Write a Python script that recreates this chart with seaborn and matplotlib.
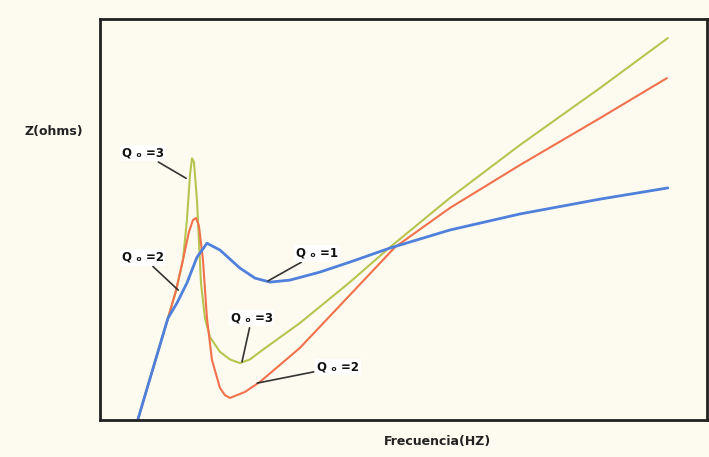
import pandas as pd
import matplotlib.pyplot as plt
import seaborn as sns

# Impedance curves (arbitrary units, 0-100 scale)
q1_freq = [6.26, 9.06, 11.20, 12.69, 14.33, 15.98, 17.63, 19.77, 23.06, 25.54, 28.01,
           31.30, 36.24, 41.19, 47.78, 57.66, 69.19, 82.37, 93.57]
q1_z = [0.2, 14.5, 25.4, 29.2, 34.2, 40.6, 44.1, 42.4, 37.9, 35.4, 34.4,
        34.9, 36.9, 39.4, 42.9, 47.4, 51.4, 55.1, 57.9]

q3_freq = [6.26, 9.06, 11.20, 12.52, 13.67, 14.33, 14.83, 15.16, 15.49, 15.98, 16.64,
           17.30, 18.12, 19.77, 21.42, 23.06, 24.71, 26.36, 32.95, 41.19, 47.78, 57.66,
           69.19, 82.37, 93.57]
q3_z = [0.2, 14.5, 25.4, 32.2, 39.9, 49.9, 61.1, 65.3, 64.3, 54.9, 34.2,
        25.4, 20.7, 17.0, 15.1, 14.2, 15.1, 17.0, 24.2, 34.4, 43.1, 55.4,
        68.6, 82.8, 95.3]

q2_freq = [6.26, 9.06, 11.20, 12.52, 13.67, 14.66, 15.32, 15.82, 16.31, 16.97, 17.63,
           18.45, 19.77, 20.59, 21.42, 23.89, 26.36, 32.95, 41.19, 48.60, 57.66, 69.19,
           82.37, 93.41]
q2_z = [0.2, 14.5, 25.4, 32.2, 39.9, 46.9, 49.9, 50.4, 48.4, 39.9, 25.4,
        15.0, 8.0, 6.2, 5.5, 7.0, 9.5, 18.0, 31.2, 43.1, 52.9, 63.6,
        75.3, 85.3]

# label text position and the point on the curve it points to
labels = ['Q ₒ =3', 'Q ₒ =2', 'Q ₒ =1', 'Q ₒ =3', 'Q ₒ =2']
label_xy = [(7.1, 66.6), (7.1, 40.6), (35.8, 41.6), (25.0, 25.4), (39.2, 13.2)]
target_xy = [(14.2, 60.3), (12.9, 32.4), (27.7, 34.7), (23.4, 14.5), (25.9, 9.2)]

bg = '#FDFBF0'
colors = {'Q1': '#4F80DC', 'Q2': '#F0714C', 'Q3': '#B8C450'}
widths = {'Q1': 2.0, 'Q2': 1.5, 'Q3': 1.5}

df = pd.concat([
    pd.DataFrame({'freq': q3_freq, 'z': q3_z, 'Q': 'Q3'}),
    pd.DataFrame({'freq': q2_freq, 'z': q2_z, 'Q': 'Q2'}),
    pd.DataFrame({'freq': q1_freq, 'z': q1_z, 'Q': 'Q1'}),
])

sns.set_style('white')
fig = plt.figure(figsize=(7.09, 4.57), dpi=100, facecolor=bg)
ax = fig.add_axes([0.141, 0.081, 0.856, 0.877], facecolor=bg)

for key in ['Q3', 'Q2', 'Q1']:
    sns.lineplot(data=df[df['Q'] == key], x='freq', y='z', color=colors[key],
                 linewidth=widths[key], estimator=None, sort=False, ax=ax)

for text, txy, pxy in zip(labels, label_xy, target_xy):
    ax.annotate(text, xy=pxy, xytext=txy, ha='center', va='center',
                fontsize=8.5, fontweight='bold', color='#111111',
                bbox=dict(boxstyle='square,pad=0.15', fc='white', ec='none'),
                arrowprops=dict(arrowstyle='-', color='#333333', lw=1.2,
                                shrinkA=1, shrinkB=0))

ax.set_xlim(0, 100)
ax.set_ylim(0, 100)
ax.set_xticks([])
ax.set_yticks([])
ax.set_xlabel('')
ax.set_ylabel('')
for s in ax.spines.values():
    s.set_color('#222222')
    s.set_linewidth(2.0)

fig.text(54 / 709, 1 - 131 / 457, 'Z(ohms)', ha='center', va='center',
         fontsize=9, fontweight='bold', color='#222222')
fig.text(437 / 709, 1 - 441 / 457, 'Frecuencia(HZ)', ha='center', va='center',
         fontsize=9, fontweight='bold', color='#222222')

fig.savefig('out.png', dpi=100, facecolor=bg)
